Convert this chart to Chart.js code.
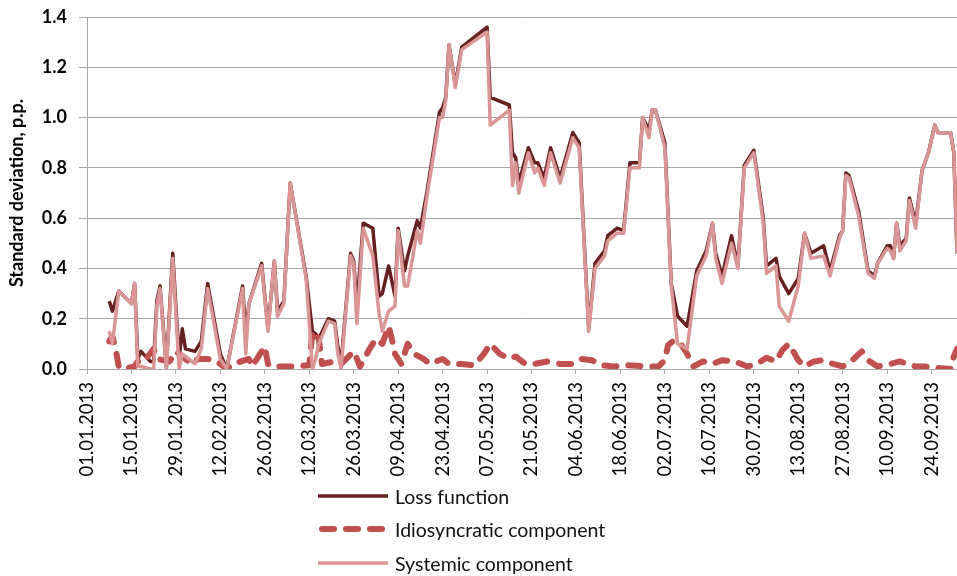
<!DOCTYPE html>
<html>
<head>
<meta charset="utf-8">
<script src="https://cdn.jsdelivr.net/npm/chart.js@4/dist/chart.umd.min.js"></script>
<style>
  html, body { margin: 0; padding: 0; background: #fff; }
  #wrap { position: relative; width: 957px; height: 576px; }
  #legend { position: absolute; left: 0; top: 0; width: 957px; height: 576px; pointer-events: none; font-family: Lato, "Liberation Sans", sans-serif; font-size: 19.5px; color: #111; }
  .lg-row { position: absolute; left: 318px; height: 20px; display: flex; align-items: center; }
  .lg-row svg { margin-right: 7px; }
</style>
</head>
<body>
<div id="wrap">
  <canvas id="c" width="957" height="576"></canvas>
  <div id="legend"></div>
</div>
<script>
// Days counted from 01.01.2013 (day 0)
const tickDays = [0, 14, 28, 42, 56, 70, 84, 98, 112, 126, 140, 154, 168, 182, 196, 210, 224, 238, 252, 266];
const tickLabels = ["01.01.2013", "15.01.2013", "29.01.2013", "12.02.2013", "26.02.2013", "12.03.2013", "26.03.2013", "09.04.2013", "23.04.2013", "07.05.2013", "21.05.2013", "04.06.2013", "18.06.2013", "02.07.2013", "16.07.2013", "30.07.2013", "13.08.2013", "27.08.2013", "10.09.2013", "24.09.2013"];

const days = [7, 8, 10, 14, 15, 16, 17, 20, 21, 22, 23, 25, 27, 29, 30, 31, 34, 36, 38, 42, 44, 49, 50, 51, 55, 57, 59, 60, 62, 64, 69, 71, 72, 73, 76, 78, 79, 80, 83, 84, 85, 87, 90, 92, 93, 95, 97, 98, 100, 101, 104, 105, 107, 111, 112, 113, 114, 116, 118, 126, 127, 133, 134, 135, 136, 139, 141, 142, 144, 146, 149, 153, 155, 158, 160, 163, 164, 167, 169, 171, 174, 175, 177, 178, 179, 182, 184, 186, 189, 192, 195, 197, 198, 200, 203, 205, 207, 210, 213, 214, 217, 218, 221, 224, 226, 228, 232, 234, 237, 238, 239, 240, 243, 246, 248, 249, 252, 253, 254, 255, 256, 258, 259, 261, 263, 265, 267, 268, 272, 273, 274];

const lossFunction = [0.27, 0.23, 0.31, 0.26, 0.34, 0.04, 0.07, 0.03, 0.03, 0.27, 0.33, 0.01, 0.46, 0.04, 0.16, 0.08, 0.07, 0.11, 0.34, 0.06, 0.00, 0.33, 0.14, 0.26, 0.42, 0.16, 0.43, 0.23, 0.27, 0.74, 0.37, 0.15, 0.14, 0.12, 0.20, 0.19, 0.09, 0.02, 0.46, 0.43, 0.25, 0.58, 0.56, 0.29, 0.30, 0.41, 0.29, 0.56, 0.39, 0.45, 0.59, 0.56, 0.70, 1.02, 1.04, 1.08, 1.29, 1.13, 1.28, 1.36, 1.08, 1.05, 0.86, 0.84, 0.74, 0.88, 0.82, 0.82, 0.76, 0.88, 0.76, 0.94, 0.90, 0.16, 0.42, 0.47, 0.53, 0.56, 0.55, 0.82, 0.82, 1.00, 0.95, 1.03, 1.03, 0.90, 0.34, 0.21, 0.17, 0.39, 0.47, 0.58, 0.46, 0.37, 0.53, 0.41, 0.81, 0.87, 0.60, 0.41, 0.44, 0.37, 0.30, 0.36, 0.54, 0.46, 0.49, 0.39, 0.53, 0.55, 0.78, 0.77, 0.63, 0.39, 0.37, 0.42, 0.49, 0.49, 0.44, 0.58, 0.49, 0.52, 0.68, 0.58, 0.79, 0.86, 0.97, 0.94, 0.94, 0.86, 0.46];

const systemicComponent = [0.15, 0.10, 0.31, 0.26, 0.34, 0.01, 0.01, 0.00, 0.00, 0.25, 0.32, 0.00, 0.44, 0.00, 0.06, 0.05, 0.02, 0.08, 0.32, 0.04, 0.00, 0.32, 0.06, 0.26, 0.41, 0.15, 0.43, 0.21, 0.26, 0.74, 0.36, 0.00, 0.04, 0.10, 0.19, 0.18, 0.06, 0.00, 0.45, 0.42, 0.18, 0.56, 0.45, 0.22, 0.15, 0.23, 0.25, 0.55, 0.33, 0.33, 0.55, 0.50, 0.68, 1.00, 1.00, 1.07, 1.29, 1.12, 1.27, 1.34, 0.97, 1.03, 0.73, 0.82, 0.70, 0.86, 0.78, 0.80, 0.73, 0.86, 0.74, 0.92, 0.88, 0.15, 0.40, 0.45, 0.51, 0.54, 0.54, 0.80, 0.80, 1.00, 0.92, 1.03, 1.03, 0.88, 0.33, 0.10, 0.08, 0.37, 0.45, 0.58, 0.44, 0.34, 0.50, 0.40, 0.80, 0.86, 0.58, 0.38, 0.41, 0.25, 0.19, 0.33, 0.54, 0.44, 0.45, 0.37, 0.52, 0.55, 0.77, 0.76, 0.61, 0.38, 0.36, 0.42, 0.48, 0.47, 0.44, 0.58, 0.47, 0.51, 0.67, 0.56, 0.79, 0.86, 0.97, 0.94, 0.94, 0.86, 0.46];

const idioDays = [7, 8, 9, 10, 11, 15, 16, 18, 21, 22, 26, 28, 30, 33, 35, 38, 41, 44, 46, 51, 52, 56, 57, 58, 63, 66, 70, 71, 73, 74, 78, 80, 84, 86, 89, 91, 93, 95, 96, 97, 99, 101, 103, 106, 108, 112, 114, 118, 122, 125, 127, 130, 133, 135, 138, 141, 145, 149, 153, 156, 159, 162, 166, 170, 177, 180, 182, 183, 185, 187, 189, 191, 194, 197, 200, 204, 208, 211, 214, 217, 219, 221, 222, 224, 226, 229, 232, 235, 238, 241, 244, 246, 249, 253, 256, 261, 264, 267, 272, 273, 274];
const idiosyncraticComponent = [0.11, 0.13, 0.08, 0.01, 0.00, 0.01, 0.03, 0.03, 0.08, 0.04, 0.03, 0.07, 0.05, 0.02, 0.04, 0.04, 0.03, 0.00, 0.02, 0.04, 0.01, 0.09, 0.02, 0.01, 0.01, 0.01, 0.015, 0.15, 0.12, 0.02, 0.03, 0.02, 0.07, 0.01, 0.08, 0.12, 0.10, 0.17, 0.12, 0.06, 0.02, 0.10, 0.06, 0.04, 0.02, 0.04, 0.02, 0.02, 0.015, 0.06, 0.10, 0.06, 0.04, 0.05, 0.02, 0.02, 0.03, 0.02, 0.02, 0.04, 0.035, 0.015, 0.01, 0.015, 0.01, 0.01, 0.035, 0.095, 0.115, 0.10, 0.06, 0.01, 0.03, 0.02, 0.035, 0.03, 0.01, 0.02, 0.045, 0.03, 0.075, 0.10, 0.08, 0.035, 0.01, 0.03, 0.035, 0.02, 0.01, 0.035, 0.07, 0.035, 0.01, 0.02, 0.03, 0.01, 0.01, 0.005, 0.00, 0.05, 0.08];

const seriesNames = ["Loss function", "Idiosyncratic component", "Systemic component"];

const toPoints = (xs, ys) => xs.map((x, i) => ({ x: x, y: ys[i] }));
const GRID = '#A6A6A6';
const FONT = 'Lato, "Liberation Sans", sans-serif';

const datasets = [
  { label: seriesNames[0], data: toPoints(days, lossFunction), borderColor: '#65201F', borderWidth: 3.5, order: 2 },
  { label: seriesNames[1], data: toPoints(idioDays, idiosyncraticComponent), borderColor: '#C0504D', borderWidth: 6, borderDash: [12, 12], borderCapStyle: 'round', order: 1 },
  { label: seriesNames[2], data: toPoints(days, systemicComponent), borderColor: '#DA9694', borderWidth: 3.5, order: 0 }
];
datasets.forEach(d => { d.pointRadius = 0; d.tension = 0; d.fill = false; d.borderJoinStyle = 'round'; });

const chart = new Chart(document.getElementById('c'), {
  type: 'line',
  data: { datasets: datasets },
  options: {
    responsive: false,
    animation: false,
    layout: { padding: { top: 17, right: 0, bottom: 0, left: 0 } },
    plugins: { legend: { display: false }, tooltip: { enabled: false } },
    scales: {
      x: {
        type: 'linear', min: 0, max: 274,
        afterBuildTicks: s => { s.ticks = tickDays.map(v => ({ value: v })); },
        afterFit: s => { s.height = 207; s.paddingLeft = 0; s.paddingRight = 0; },
        ticks: {
          autoSkip: false, minRotation: 90, maxRotation: 90, padding: 8,
          color: '#000', font: { family: FONT, size: 18.5 },
          callback: (v, i) => tickLabels[i]
        },
        grid: { drawOnChartArea: false, drawTicks: true, tickLength: 5, color: GRID, lineWidth: 1 },
        border: { display: true, color: GRID, width: 1 }
      },
      y: {
        min: 0, max: 1.4,
        afterFit: s => { s.width = 87; s.paddingTop = 0; s.paddingBottom = 0; },
        ticks: { stepSize: 0.2, padding: 12, color: '#000', font: { family: FONT, size: 18, weight: 'bold' }, callback: v => Number(v).toFixed(1) },
        grid: { color: GRID, lineWidth: 1, tickLength: 8 },
        border: { display: true, color: GRID, width: 1 },
        title: { display: true, text: 'Standard deviation, p.p.', color: '#000', font: { family: FONT, size: 18, weight: 'bold' }, padding: { top: 6, bottom: 0 } }
      }
    }
  }
});

// HTML legend built from the chart's datasets
const legendOrder = [0, 1, 2];
const rowTops = [486, 519, 553];
const lg = document.getElementById('legend');
legendOrder.forEach((di, k) => {
  const ds = chart.data.datasets[di];
  const row = document.createElement('div');
  row.className = 'lg-row';
  row.style.top = rowTops[k] + 'px';
  const dash = ds.borderDash ? `stroke-dasharray="${ds.borderDash.join(' ')}" stroke-linecap="round"` : '';
  const x1 = ds.borderDash ? 4 : 0, x2 = ds.borderDash ? 66 : 70;
  row.innerHTML = `<svg width="70" height="20"><line x1="${x1}" y1="10" x2="${x2}" y2="10" stroke="${ds.borderColor}" stroke-width="${ds.borderWidth}" ${dash}/></svg><span>${ds.label}</span>`;
  lg.appendChild(row);
});
</script>
</body>
</html>
